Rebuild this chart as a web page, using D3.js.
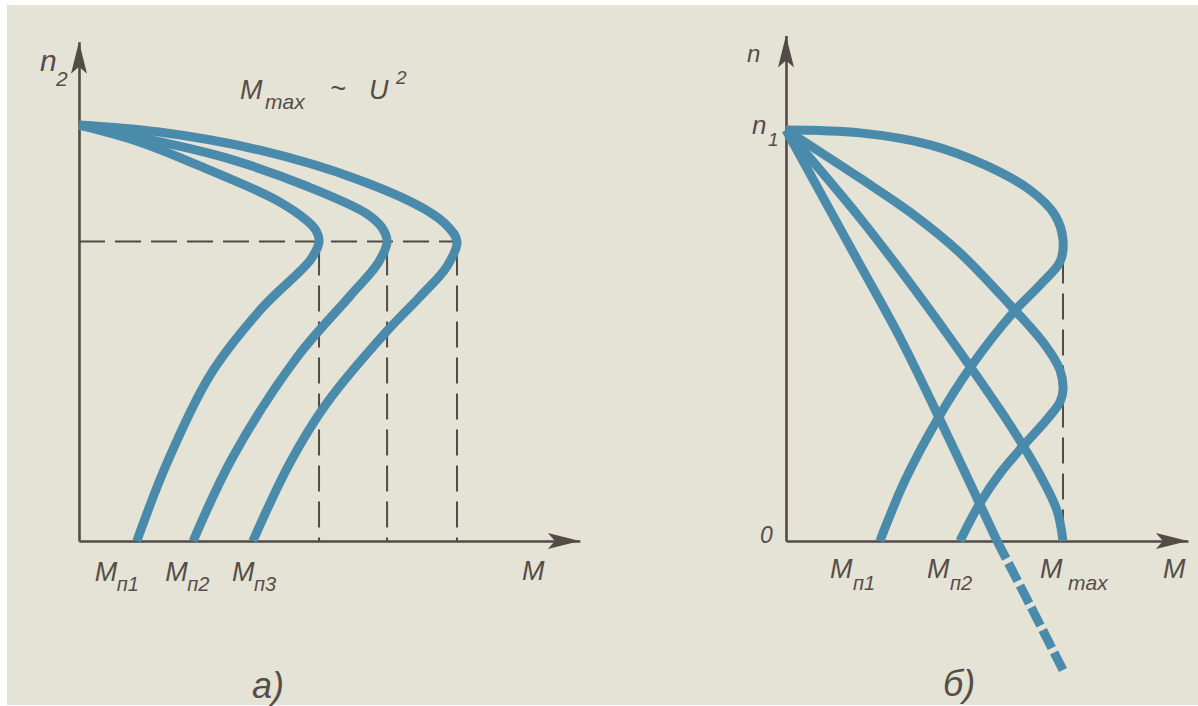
<!DOCTYPE html>
<html>
<head>
<meta charset="utf-8">
<title>M(n)</title>
<script src="https://cdn.jsdelivr.net/npm/d3@7/dist/d3.min.js"></script>
<style>
  body { margin: 0; background: #fff; }
  svg text { font-family: "Liberation Sans", "DejaVu Sans", sans-serif; font-style: italic; fill: #554e48; }
</style>
</head>
<body>
<svg width="1198" height="706"></svg>
<script>
// ---- panel а) : n2(M) at three supply voltages, Mmax ~ U^2 ----
var nCritA = 0.72;                       // speed at Mmax (same for all three)
var mMaxA = [0.635, 0.815, 1.0];         // Mmax for U3 < U2 < U1
var mStartA = [0.153, 0.302, 0.46];      // Mп1, Mп2, Mп3
var curveA1 = [[0,1],[0.167,0.957],[0.344,0.892],[0.521,0.82],[0.603,0.77],[0.628,0.745],[0.635,0.72],
               [0.614,0.678],[0.484,0.56],[0.347,0.399],[0.233,0.188],[0.153,0]];
var curveA2 = [[0,1],[0.167,0.969],[0.389,0.921],[0.608,0.851],[0.759,0.788],[0.8,0.755],[0.815,0.72],
               [0.791,0.668],[0.717,0.589],[0.577,0.442],[0.407,0.202],[0.302,0]];
var curveA3 = [[0,1],[0.212,0.983],[0.476,0.94],[0.741,0.868],[0.918,0.796],[0.977,0.755],[1.0,0.72],
               [0.974,0.661],[0.902,0.587],[0.81,0.5],[0.656,0.332],[0.558,0.188],[0.46,0]];
var labelsA = ["п1", "п2", "п3"];

// ---- panel б) : n(M) for growing rotor resistance, Mmax constant ----
var mMaxB = 1.0;
var mStartB = [0.339, 0.628];            // Mп1, Mп2
var curveB1 = [[0,1],[0.267,0.993],[0.52,0.964],[0.718,0.915],[0.881,0.854],[0.971,0.793],[1.0,0.732],
               [0.989,0.679],[0.917,0.623],[0.819,0.555],[0.664,0.421],[0.545,0.294],[0.43,0.148],[0.339,0]];
var curveB2 = [[0,1],[0.267,0.883],[0.448,0.8],[0.628,0.701],[0.809,0.574],[0.935,0.477],[0.989,0.416],[1.0,0.367],
               [0.989,0.338],[0.946,0.299],[0.856,0.231],[0.773,0.165],[0.7,0.092],[0.628,0]];
var curveB3 = [[0,1],[0.267,0.786],[0.466,0.611],[0.653,0.436],[0.809,0.282],[0.917,0.161],[0.978,0.075],[1.0,0]];
var curveB4 = [[0,1],[0.264,0.676],[0.412,0.494],[0.545,0.311],[0.762,0]];
var curveB4brake = [[0.762,0],[0.881,-0.156],[1.0,-0.314]];
var labelsB = ["п1", "п2"];

var blue = "#4a8bab", ink = "#534b45";

var svg = d3.select("svg");
svg.append("rect").attr("x", 7).attr("y", 5).attr("width", 1191).attr("height", 700).attr("fill", "#e5e2d6");

// scales
var xL = d3.scaleLinear().domain([0, 1]).range([79, 457]);
var yL = d3.scaleLinear().domain([0, 1]).range([541, 125]);
var xR = d3.scaleLinear().domain([0, 1]).range([786, 1063]);
var yR = d3.scaleLinear().domain([0, 1]).range([541, 130]);

function arrowUp(g, x, yTip) {
  g.append("path")
    .attr("d", "M" + x + "," + yTip + "L" + (x + 8) + "," + (yTip + 32) + "L" + x + "," + (yTip + 25) + "L" + (x - 8) + "," + (yTip + 32) + "Z")
    .attr("fill", ink);
}
function arrowRight(g, xTip, y) {
  g.append("path")
    .attr("d", "M" + xTip + "," + y + "L" + (xTip - 32) + "," + (y - 8) + "L" + (xTip - 25) + "," + y + "L" + (xTip - 32) + "," + (y + 8) + "Z")
    .attr("fill", ink);
}

function drawAxes(x, y, mEnd, nEnd) {
  var g = svg.append("g");
  var xa = x.copy().domain([0, mEnd]).range([x(0), x(mEnd)]);
  var ya = y.copy().domain([0, nEnd]).range([y(0), y(nEnd)]);
  g.append("g").attr("transform", "translate(0," + y(0) + ")")
    .call(d3.axisBottom(xa).tickValues([]).tickSizeOuter(0));
  g.append("g").attr("transform", "translate(" + x(0) + ",0)")
    .call(d3.axisLeft(ya).tickValues([]).tickSizeOuter(0));
  g.selectAll(".domain").attr("stroke", ink).attr("stroke-width", 2.6);
  arrowRight(g, x(mEnd), y(0));
  arrowUp(g, x(0), y(nEnd));
}

function dashed(x1, y1, x2, y2) {
  svg.append("line").attr("x1", x1).attr("y1", y1).attr("x2", x2).attr("y2", y2)
    .attr("stroke", ink).attr("stroke-width", 2).attr("stroke-dasharray", "26,10");
}

function curve(x, y, data, dash) {
  var line = d3.line().x(function(d){ return x(d[0]); }).y(function(d){ return y(d[1]); })
    .curve(d3.curveCatmullRom.alpha(0.5));
  svg.append("path").attr("d", line(data)).attr("fill", "none")
    .attr("stroke", blue).attr("stroke-width", 9).attr("stroke-linejoin", "round")
    .attr("stroke-dasharray", dash || null);
}

function label(x, y, txt, size) {
  return svg.append("text").attr("x", x).attr("y", y).attr("font-size", size).text(txt);
}

// ---- а) ----
drawAxes(xL, yL, 1.325, 1.2);
dashed(xL(0), yL(nCritA), xL(d3.max(mMaxA)), yL(nCritA));
mMaxA.forEach(function(m){ dashed(xL(m), yL(nCritA) + 8, xL(m), yL(0)); });
[curveA1, curveA2, curveA3].forEach(function(c){ curve(xL, yL, c); });

label(40, 71, "n", 30);
label(56, 86, "2", 21);
label(240, 99, "M", 27);
label(265, 109, "max", 21);
label(330, 98, "~", 27);
label(369, 99, "U", 27);
label(396, 84, "2", 19);
mStartA.forEach(function(m, i){
  var dx = [-42, -28, -21][i];
  label(xL(m) + dx, 581, "M", 27);
  label(xL(m) + dx + 22, 591, labelsA[i], 20);
});
label(522, 580, "M", 27);
label(252, 698, "а)", 36);

// ---- б) ----
drawAxes(xR, yR, 1.451, 1.23);
dashed(xR(mMaxB), yR(0.69), xR(mMaxB), yR(0));
[curveB1, curveB2, curveB3, curveB4].forEach(function(c){ curve(xR, yR, c); });
curve(xR, yR, curveB4brake, "20,5");

label(747, 62, "n", 24);
label(752, 134, "n", 26);
label(768, 146, "1", 19);
label(760, 543, "0", 23);
mStartB.forEach(function(m, i){
  var dx = [-50, -33][i];
  label(xR(m) + dx, 578, "M", 27);
  label(xR(m) + dx + 23, 590, labelsB[i], 20);
});
label(xR(mMaxB) - 23, 578, "M", 27);
label(xR(mMaxB) + 5, 590, "max", 21);
label(1163, 578, "M", 27);
label(943, 696, "б)", 36);
</script>
</body>
</html>
